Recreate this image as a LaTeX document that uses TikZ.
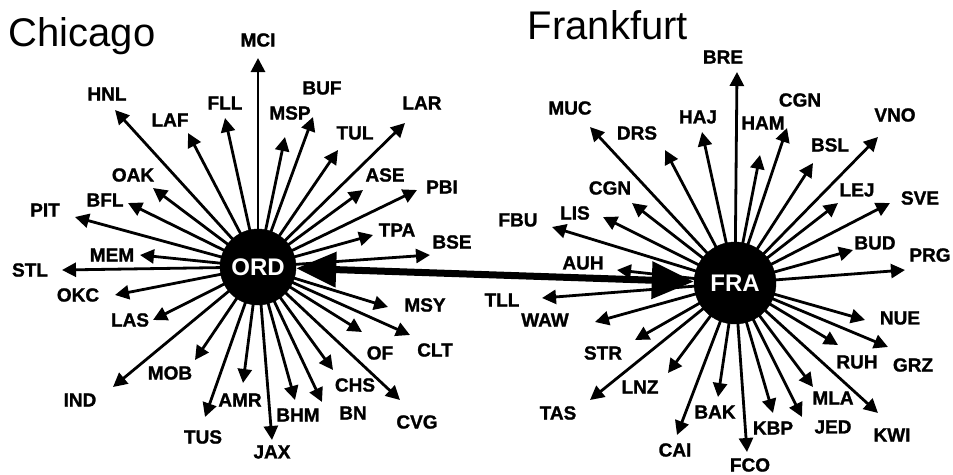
\documentclass[tikz,border=0pt]{standalone}
\usepackage{fontspec}
\setmainfont{Liberation Sans}
\newfontfamily\labfont[BoldFeatures={FakeBold=1.3}]{Liberation Sans}
\usetikzlibrary{arrows.meta,backgrounds}
\tikzset{
  hub/.style={circle,fill=black,draw=black,text=white,font=\fontsize{24}{24}\selectfont\bfseries,inner sep=0pt},
  spoke/.style={line width=2.8pt,-{Triangle[length=14pt,width=14pt]}},
  lab/.style={font=\labfont\fontsize{19}{19}\selectfont\bfseries,inner sep=0pt},
  title/.style={font=\fontsize{40}{40}\selectfont,inner sep=0pt},
  link/.style={line width=7pt,{Triangle[length=40pt,width=34pt]}-{Triangle[length=42pt,width=36pt]}}
}
\begin{document}
\begin{tikzpicture}[x=1pt,y=-1pt]
\useasboundingbox (0,0) rectangle (953,474);
\node[title,anchor=base] (chi) at (82,46) {Chicago};
\node[title,anchor=base] (fra) at (608,39) {Frankfurt};
\node[hub,minimum size=76pt] (ORD) at (258,267) {ORD};
\node[hub,minimum size=82pt] (FRA) at (735,283) {FRA};
\begin{pgfonlayer}{background}
\foreach \n/\t/\tx/\ty/\lx/\ly in {
 a1/MCI/258/58/258/40, a2/HNL/115/110/107/94, a3/LAF/188/133/170/120,
 a4/FLL/225/118/225/103, a5/MSP/285/137/290/113, a6/BUF/313/117/322/88,
 a7/TUL/338/150/355/133, a8/LAR/405/123/422/103, a9/ASE/363/190/385/175,
 a10/PBI/417/190/442/187, a11/OAK/153/188/133/175, a12/BFL/128/203/105/200,
 a13/PIT/75/217/45/210, a14/TPA/373/235/397/230, a15/BSE/430/255/452/242,
 a16/MEM/140/255/112/255, a17/STL/62/270/30/270, a18/OKC/115/295/78/295,
 a19/LAS/153/320/130/320, a20/IND/113/387/80/400, a21/MOB/195/360/170/373,
 a22/TUS/205/417/203/437, a23/AMR/243/383/240/400, a24/JAX/272/440/272/452,
 a25/BHM/295/400/298/415, a26/BN/322/402/353/413, a27/CHS/333/370/355/385,
 a28/CVG/400/400/417/422, a29/OF/362/332/380/353, a30/CLT/410/335/435/350,
 a31/MSY/388/307/425/305}{
  \coordinate (t\n) at (\tx,\ty);
  \node[lab] (l\n) at (\lx,\ly) {\t};
  \draw[spoke] (ORD.center) -- (t\n);
}
\foreach \n/\t/\tx/\ty/\lx/\ly in {
 b1/BRE/737/72/723/57, b2/MUC/590/127/570/108, b3/DRS/665/150/637/133,
 b4/HAJ/702/132/698/117, b5/HAM/760/155/763/123, b6/CGN/787/128/800/100,
 b7/BSL/813/163/830/145, b8/VNO/878/137/895/115, b9/LEJ/838/203/857/190,
 b10/SVE/890/203/920/198, b11/CGN/632/203/610/188, b12/LIS/603/217/575/213,
 b13/FBU/552/227/518/220, b14/BUD/853/250/875/243, b15/PRG/905/270/930/255,
 b16/AUH/617/270/583/263, b17/TLL/542/298/502/300, b18/WAW/595/322/545/320,
 b19/STR/635/340/603/353, b20/LNZ/668/373/640/387, b21/TAS/590/400/558/413,
 b22/BAK/718/397/715/412, b23/CAI/677/435/675/450, b24/FCO/747/452/750/465,
 b25/KBP/773/413/773/428, b26/JED/802/417/833/427, b27/MLA/813/387/833/398,
 b28/KWI/878/413/892/435, b29/RUH/838/345/857/362, b30/GRZ/888/347/913/365,
 b31/NUE/865/320/900/318}{
  \coordinate (t\n) at (\tx,\ty);
  \node[lab] (l\n) at (\lx,\ly) {\t};
  \draw[spoke] (FRA.center) -- (t\n);
}
\end{pgfonlayer}
\draw[link] (ORD) -- (FRA);
\end{tikzpicture}
\end{document}
